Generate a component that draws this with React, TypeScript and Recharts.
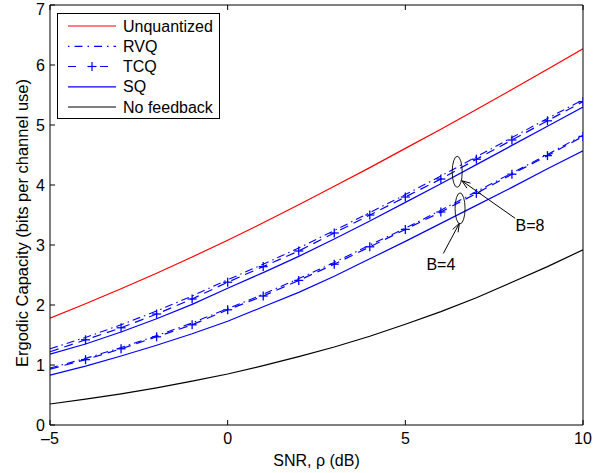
import React from "react";
import {
  LineChart,
  Line,
  XAxis,
  YAxis,
  Label,
  ReferenceDot,
  ReferenceLine,
} from "recharts";

// SNR in dB
const snr = [-5, -4, -3, -2, -1, 0, 1, 2, 3, 4, 5, 6, 7, 8, 9, 10];

// ergodic capacity (bits per channel use)
const unquantized = [1.78, 2.02, 2.27, 2.53, 2.8, 3.08, 3.37, 3.67, 3.98, 4.29, 4.61, 4.93, 5.26, 5.59, 5.93, 6.27];
const rvqB8 = [1.27, 1.46, 1.67, 1.9, 2.15, 2.42, 2.68, 2.95, 3.24, 3.54, 3.84, 4.15, 4.47, 4.79, 5.11, 5.42];
const tcqB8 = [1.22, 1.42, 1.62, 1.85, 2.1, 2.38, 2.64, 2.9, 3.2, 3.5, 3.8, 4.1, 4.43, 4.75, 5.07, 5.39];
const sqB8 = [1.18, 1.35, 1.55, 1.77, 2.01, 2.28, 2.54, 2.81, 3.1, 3.4, 3.71, 4.02, 4.34, 4.66, 4.98, 5.3];
const rvqB4 = [0.95, 1.11, 1.29, 1.49, 1.7, 1.94, 2.18, 2.44, 2.71, 3.0, 3.28, 3.58, 3.89, 4.2, 4.51, 4.83];
const tcqB4 = [0.93, 1.09, 1.27, 1.47, 1.67, 1.92, 2.15, 2.41, 2.68, 2.97, 3.26, 3.55, 3.86, 4.18, 4.49, 4.81];
const sqB4 = [0.83, 0.98, 1.15, 1.33, 1.52, 1.73, 1.97, 2.21, 2.48, 2.77, 3.06, 3.36, 3.66, 3.96, 4.27, 4.57];
const noFeedback = [0.35, 0.43, 0.52, 0.62, 0.73, 0.85, 0.99, 1.14, 1.3, 1.48, 1.68, 1.89, 2.12, 2.38, 2.64, 2.92];

const xTicks = [-5, 0, 5, 10];
const yTicks = [0, 1, 2, 3, 4, 5, 6, 7];

const legendItems = ["Unquantized", "RVQ", "TCQ", "SQ", "No feedback"];

const data = snr.map((s, i) => ({
  snr: s,
  unq: unquantized[i],
  rvq8: rvqB8[i],
  tcq8: tcqB8[i],
  sq8: sqB8[i],
  rvq4: rvqB4[i],
  tcq4: tcqB4[i],
  sq4: sqB4[i],
  nofb: noFeedback[i],
}));

const FONT = "'Liberation Sans', Arial, sans-serif";
const BLUE = "#0000ff";

const PlusDot = (props: any) => {
  const { cx, cy, index } = props;
  if (index === 0 || cx == null) return <g key={`p${index}`} />;
  return (
    <g key={`p${index}`} stroke={BLUE} strokeWidth={1.3}>
      <line x1={cx - 4.5} x2={cx + 4.5} y1={cy} y2={cy} />
      <line x1={cx} x2={cx} y1={cy - 4.5} y2={cy + 4.5} />
    </g>
  );
};

const Ellipse = (props: any) => (
  <ellipse cx={props.cx} cy={props.cy} rx={5} ry={15.5} fill="none" stroke="#000" strokeWidth={0.9} />
);

const Arrow = (props: any) => {
  const { x1, y1, x2, y2 } = props;
  const a = Math.atan2(y2 - y1, x2 - x1);
  const len = 9;
  const spread = 0.35;
  const ax = x2 - len * Math.cos(a - spread);
  const ay = y2 - len * Math.sin(a - spread);
  const bx = x2 - len * Math.cos(a + spread);
  const by = y2 - len * Math.sin(a + spread);
  return (
    <g stroke="#000" strokeWidth={1} fill="none">
      <line x1={x1} y1={y1} x2={x2} y2={y2} />
      <polyline points={`${ax},${ay} ${x2},${y2} ${bx},${by}`} />
    </g>
  );
};

const textShape = (label: string) => (props: any) => (
  <text x={props.cx} y={props.cy} textAnchor="middle" dominantBaseline="central" fontFamily={FONT} fontSize={16} fill="#000">
    {label}
  </text>
);

const LegendBox = () => {
  const rowY = [26, 46.3, 66.5, 86.8, 107];
  return (
    <svg
      width={163}
      height={106}
      style={{ position: "absolute", left: 57, top: 13, background: "#fff" }}
    >
      <rect x={0.5} y={0.5} width={162} height={105} fill="#fff" stroke="#000" strokeWidth={1} />
      {legendItems.map((name, i) => {
        const y = rowY[i] - 13;
        let line: React.ReactNode = null;
        if (i === 0) line = <line x1={11} x2={59} y1={y} y2={y} stroke="#ff0000" strokeWidth={1.2} />;
        if (i === 1)
          line = <line x1={11} x2={59} y1={y} y2={y} stroke={BLUE} strokeWidth={1.2} strokeDasharray="1.5 5 8 5" />;
        if (i === 2)
          line = (
            <g stroke={BLUE} strokeWidth={1.2}>
              <line x1={11} x2={59} y1={y} y2={y} strokeDasharray="8 8 0 16 8 8" />
              <line x1={30.5} x2={39.5} y1={y} y2={y} />
              <line x1={35} x2={35} y1={y - 4.5} y2={y + 4.5} />
            </g>
          );
        if (i === 3) line = <line x1={11} x2={59} y1={y} y2={y} stroke={BLUE} strokeWidth={1.2} />;
        if (i === 4) line = <line x1={11} x2={59} y1={y} y2={y} stroke="#000" strokeWidth={1.2} />;
        return (
          <g key={name}>
            {line}
            <text x={66} y={y} dominantBaseline="central" fontFamily={FONT} fontSize={16} fill="#000">
              {name}
            </text>
          </g>
        );
      })}
    </svg>
  );
};

export default function App() {
  const tickStyle = { fontFamily: FONT, fontSize: 16, fill: "#000" };
  return (
    <div style={{ position: "absolute", left: 0, top: 0, width: 609, height: 473, background: "#fff" }}>
      <LineChart
        width={609}
        height={473}
        data={data}
        margin={{ top: 0, right: 21, left: 10, bottom: 18 }}
      >
        <XAxis
          xAxisId="b"
          type="number"
          dataKey="snr"
          domain={[-5, 10]}
          ticks={xTicks}
          allowDataOverflow
          height={30}
          tickSize={-5}
          tickMargin={13}
          tick={tickStyle}
          tickFormatter={(v) => (v < 0 ? `\u2013${Math.abs(v)}` : `${v}`)}
          stroke="#000"
        >
          <Label value="SNR, ρ (dB)" position="bottom" offset={0} style={{ fontFamily: FONT, fontSize: 16, fill: "#000" }} />
        </XAxis>
        <XAxis
          xAxisId="t"
          orientation="top"
          type="number"
          dataKey="snr"
          domain={[-5, 10]}
          ticks={xTicks}
          allowDataOverflow
          height={5}
          tickSize={-5}
          tickFormatter={() => ""}
          stroke="#000"
        />
        <YAxis
          yAxisId="l"
          type="number"
          domain={[0, 7]}
          ticks={yTicks}
          width={40}
          tickSize={-5}
          tickMargin={10}
          tick={tickStyle}
          stroke="#000"
        >
          <Label
            content={(p: any) => {
              const vb = p.viewBox;
              const cx = vb.x + 12;
              const cy = vb.y + vb.height / 2 + 8;
              return (
                <text
                  x={cx}
                  y={cy}
                  transform={`rotate(-90 ${cx} ${cy})`}
                  textAnchor="middle"
                  dominantBaseline="central"
                  fontFamily={FONT}
                  fontSize={16.5}
                  fill="#000"
                >
                  Ergodic Capacity (bits per channel use)
                </text>
              );
            }}
          />
        </YAxis>
        <YAxis
          yAxisId="r"
          orientation="right"
          type="number"
          domain={[0, 7]}
          ticks={yTicks}
          width={5}
          tickSize={-5}
          tickFormatter={() => ""}
          stroke="#000"
        />

        <Line xAxisId="b" yAxisId="l" dataKey="nofb" stroke="#000" strokeWidth={1.2} dot={false} isAnimationActive={false} />
        <Line xAxisId="b" yAxisId="l" dataKey="unq" stroke="#ff0000" strokeWidth={1.2} dot={false} isAnimationActive={false} />
        <Line xAxisId="b" yAxisId="l" dataKey="sq8" stroke={BLUE} strokeWidth={1.2} dot={false} isAnimationActive={false} />
        <Line xAxisId="b" yAxisId="l" dataKey="sq4" stroke={BLUE} strokeWidth={1.2} dot={false} isAnimationActive={false} />
        <Line xAxisId="b" yAxisId="l" dataKey="rvq8" stroke={BLUE} strokeWidth={1.1} strokeDasharray="8 4 1.5 4" dot={false} isAnimationActive={false} />
        <Line xAxisId="b" yAxisId="l" dataKey="rvq4" stroke={BLUE} strokeWidth={1.1} strokeDasharray="8 4 1.5 4" dot={false} isAnimationActive={false} />
        <Line xAxisId="b" yAxisId="l" dataKey="tcq8" stroke={BLUE} strokeWidth={1.2} strokeDasharray="9 6" dot={<PlusDot />} isAnimationActive={false} />
        <Line xAxisId="b" yAxisId="l" dataKey="tcq4" stroke={BLUE} strokeWidth={1.2} strokeDasharray="9 6" dot={<PlusDot />} isAnimationActive={false} />

        <ReferenceDot xAxisId="b" yAxisId="l" x={6.46} y={4.22} r={0} shape={Ellipse} ifOverflow="visible" />
        <ReferenceDot xAxisId="b" yAxisId="l" x={6.54} y={3.61} r={0} shape={Ellipse} ifOverflow="visible" />
        <ReferenceLine xAxisId="b" yAxisId="l" segment={[{ x: 8.09, y: 3.445 }, { x: 6.59, y: 4.07 }]} shape={Arrow} ifOverflow="visible" />
        <ReferenceLine xAxisId="b" yAxisId="l" segment={[{ x: 6.07, y: 2.86 }, { x: 6.52, y: 3.36 }]} shape={Arrow} ifOverflow="visible" />
        <ReferenceDot xAxisId="b" yAxisId="l" x={8.51} y={3.32} r={0} shape={textShape("B=8")} ifOverflow="visible" />
        <ReferenceDot xAxisId="b" yAxisId="l" x={6.0} y={2.67} r={0} shape={textShape("B=4")} ifOverflow="visible" />
      </LineChart>
      <LegendBox />
    </div>
  );
}
